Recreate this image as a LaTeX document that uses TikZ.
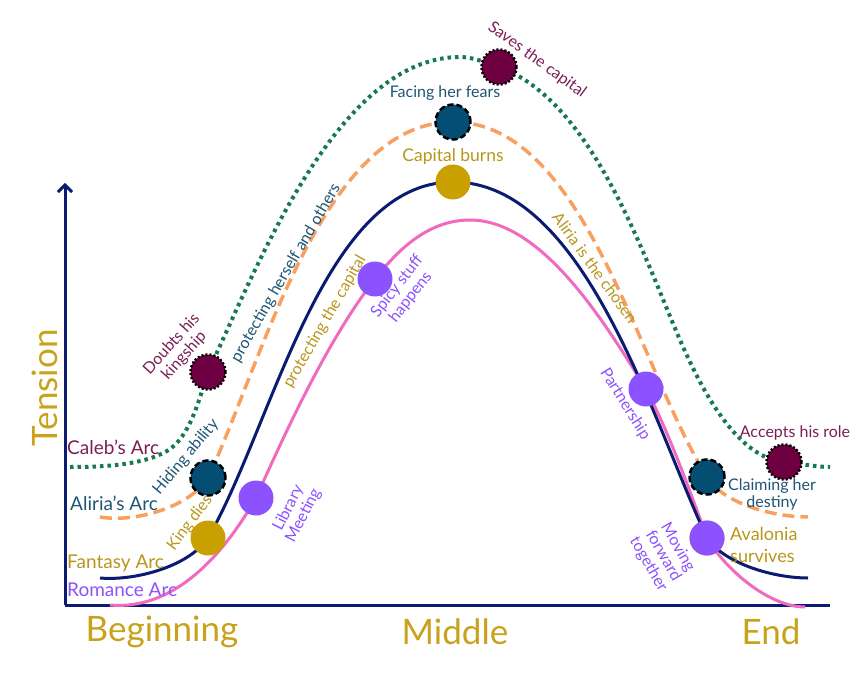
\documentclass[tikz,border=0pt]{standalone}
\usepackage{fontspec}
\setmainfont{Lato}
\usetikzlibrary{arrows.meta,positioning}

\definecolor{axisnavy}{HTML}{0B1B72}
\definecolor{axisgold}{HTML}{C8A21B}
\definecolor{calebgreen}{HTML}{167A4E}
\definecolor{calebfill}{HTML}{6E0041}
\definecolor{calebtext}{HTML}{7A1F55}
\definecolor{aliriaorange}{HTML}{F7A060}
\definecolor{aliriafill}{HTML}{044E73}
\definecolor{aliriatext}{HTML}{1F5575}
\definecolor{fantasygold}{HTML}{C9A000}
\definecolor{fantasytext}{HTML}{B8961A}
\definecolor{romancepink}{HTML}{F06AC0}
\definecolor{romancepurple}{HTML}{8C52FF}

\begin{document}
\begin{tikzpicture}
[x=1pt,y=-1pt,looseness=0.77]
\tikzset{
	axisline/.style = {draw=axisnavy, line width=3pt},
	calebarc/.style = {draw=calebgreen, line width=4pt, dash pattern=on 3.5pt off 4pt},
	aliriaarc/.style = {draw=aliriaorange, line width=3.5pt, dash pattern=on 12pt off 6pt},
	fantasyarc/.style = {draw=axisnavy, line width=3pt},
	romancearc/.style = {draw=romancepink, line width=3pt},
	bead/.style = {circle, minimum size=35pt, inner sep=0pt},
	calebbead/.style = {bead, fill=calebfill, draw=black, line width=2.5pt, dash pattern=on 2pt off 2pt},
	aliriabead/.style = {bead, fill=aliriafill, draw=black, line width=2.5pt, dash pattern=on 6pt off 3pt},
	fantasybead/.style = {bead, fill=fantasygold},
	romancebead/.style = {bead, fill=romancepurple},
	lbl/.style = {font=\fontsize{16}{17}\selectfont, align=center, inner sep=0pt},
	caleblbl/.style = {lbl, text=calebtext},
	alirialbl/.style = {lbl, text=aliriatext},
	fantasylbl/.style = {lbl, text=fantasytext},
	romancelbl/.style = {lbl, text=romancepurple},
	arcname/.style = {anchor=west, font=\fontsize{19}{19}\selectfont},
	axislbl/.style = {font=\fontsize{35}{35}\selectfont, text=axisgold, inner sep=0pt}
}

\useasboundingbox (0,0) rectangle (865,679);

% axes
\coordinate (origin) at (65,605);
\coordinate (ytop) at (65,183);
\coordinate (xend) at (830,605);
\draw[axisline] (origin) -- (xend);
\draw[axisline, -{Straight Barb[length=7pt,width=14pt]}] (origin) -- (ytop);

% points on the arcs
\coordinate (cs) at (70,467);
\coordinate (cl) at (167,451);
\coordinate (dk) at (208,372);
\coordinate (ct) at (460,57);
\coordinate (sc) at (499,67);
\coordinate (cm) at (677,333);
\coordinate (ah) at (784,462);
\coordinate (ce) at (830,467);

\coordinate (as) at (100,517);
\coordinate (hb) at (208,478);
\coordinate (ff) at (453,122);
\coordinate (cd) at (707,477);
\coordinate (ae) at (808,517);

\coordinate (fs) at (100,578);
\coordinate (kd) at (208,538);
\coordinate (cb) at (453,182);
\coordinate (av) at (707,538);
\coordinate (fe) at (808,578);

\coordinate (rs) at (110,605);
\coordinate (lm) at (256,498);
\coordinate (ss) at (375,279);
\coordinate (rp) at (470,220);
\coordinate (pt) at (646,389);
\coordinate (mf) at (707,538);
\coordinate (re) at (805,607);

% the four arcs
\draw[romancearc] (rs) to[out=-5,in=-120,looseness=0.92] (lm) to[out=66,in=-128] (ss)
	to[out=52,in=180,looseness=0.92] (rp) to[out=0,in=122] (pt) to[out=-62,in=110] (mf)
	to[out=-60,in=180] (re);
\draw[fantasyarc] (fs) to[out=-5,in=-124] (kd) to[out=60,in=180] (cb)
	to[out=0,in=115] (av) to[out=-55,in=180] (fe);
\draw[aliriaarc] (as) to[out=-10,in=-122] (hb) to[out=65,in=180] (ff)
	to[out=0,in=122] (cd) to[out=-58,in=180] (ae);
\draw[calebarc] (cs) to[out=0,in=-150] (cl) to[out=30,in=-108] (dk) to[out=65,in=180] (ct)
	to[out=0,in=160] (sc) to[out=-20,in=113] (cm) to[out=-67,in=175] (ah)
	to[out=-5,in=180] (ce);

% beads
\node[calebbead] (dkbead) at (dk) {};
\node[calebbead] (scbead) at (sc) {};
\node[calebbead] (ahbead) at (ah) {};
\node[aliriabead] (hbbead) at (hb) {};
\node[aliriabead] (ffbead) at (ff) {};
\node[aliriabead] (cdbead) at (cd) {};
\node[fantasybead] (kdbead) at (kd) {};
\node[fantasybead] (cbbead) at (cb) {};
\node[fantasybead] (avbead) at (av) {};
\node[romancebead] (lmbead) at (lm) {};
\node[romancebead] (ssbead) at (ss) {};
\node[romancebead] (ptbead) at (pt) {};
\node[romancebead] (mfbead) at (mf) {};

% event labels
\node[caleblbl, rotate=48] (dktxt) at (178,350) {Doubts his\\kingship};
\node[caleblbl, rotate=-36] (sctxt) at (537,60) {Saves the capital};
\node[caleblbl] (ahtxt) at (795,433) {Accepts his role};
\node[alirialbl, rotate=50] (hbtxt) at (186,457) {Hiding ability};
\node[alirialbl, rotate=60] (phtxt) at (286,273) {protecting herself and others};
\node[alirialbl] (fftxt) at (445,93) {Facing her fears};
\node[alirialbl] (cdtxt) at (772,494) {Claiming her\\destiny};
\node[fantasylbl, rotate=53] (kdtxt) at (190,523) {King dies};
\node[fantasylbl, rotate=60] (pctxt) at (325,322) {protecting the capital};
\node[fantasylbl, font=\fontsize{17.5}{18}\selectfont] (cbtxt) at (453,157) {Capital burns};
\node[fantasylbl, rotate=-54] (actxt) at (595,268) {Aliria is the chosen};
\node[fantasylbl, align=left, anchor=west, font=\fontsize{18}{22}\selectfont] (avtxt) at (730,545) {Avalonia\\survives};
\node[romancelbl, rotate=63] (lmtxt) at (296,512) {Library\\Meeting};
\node[romancelbl, rotate=52] (sstxt) at (404,292) {Spicy stuff\\happens};
\node[romancelbl, rotate=-58] (pttxt) at (625,404) {Partnership};
\node[romancelbl, rotate=-60] (mftxt) at (663,556) {Moving\\forward\\together};

% arc names
\node[caleblbl, arcname] (calebname) at (67,447) {Caleb’s Arc};
\node[alirialbl, arcname] (alirianame) at (70,503) {Aliria’s Arc};
\node[fantasylbl, arcname] (fantasyname) at (67,563) {Fantasy Arc};
\node[romancelbl, arcname] (romancename) at (67,590) {Romance Arc};

% axis labels
\node[axislbl, rotate=90] (tension) at (45,388) {Tension};
\node[axislbl] (beginning) at (162,632) {Beginning};
\node[axislbl] (middle) at (455,632) {Middle};
\node[axislbl] (ending) at (771,632) {End};

\end{tikzpicture}
\end{document}
